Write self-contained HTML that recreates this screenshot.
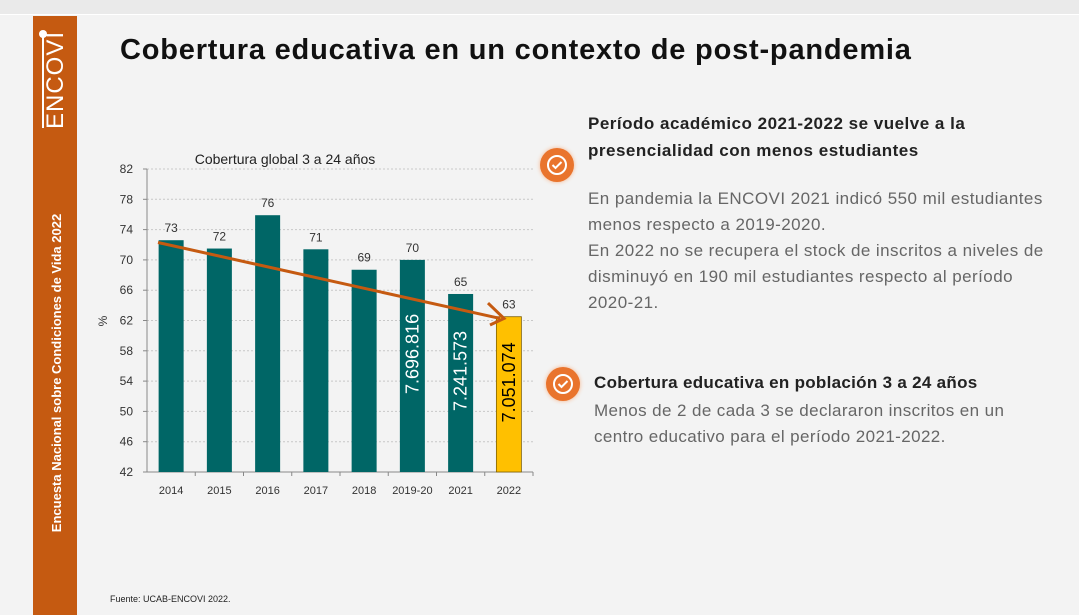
<!DOCTYPE html>
<html><head><meta charset="utf-8"><style>
body{margin:0;width:1079px;height:615px;background:#f3f3f3;font-family:"Liberation Sans",sans-serif;position:relative;overflow:hidden}
.abs{position:absolute}
</style></head><body>
<div class="abs" style="left:0;top:0;width:1079px;height:14px;background:#eaeaea;border-bottom:1px solid #fff"></div>
<div class="abs" style="left:33px;top:16px;width:44px;height:599px;background:#c55a11"></div>
<div class="abs" style="left:34px;top:30px;width:42px;height:100px">
 <div style="position:absolute;left:5px;top:0;width:8px;height:8px;border-radius:50%;background:#fff"></div>
 <div style="position:absolute;left:8px;top:6px;width:2px;height:92px;background:#fff"></div>
 <div style="position:absolute;left:-28px;top:38px;width:100px;height:24px;transform:rotate(-90deg);color:#fff;font-size:24px;text-align:center;line-height:24px;letter-spacing:1px">ENCOVI</div>
</div>
<div class="abs" style="left:-115px;top:365px;width:344px;height:16px;transform:rotate(-90deg);color:#fff;font-size:13px;font-weight:bold;text-align:center;line-height:16px">Encuesta Nacional sobre Condiciones de Vida 2022</div>
<div class="abs" style="left:120px;top:34px;font-size:29px;letter-spacing:0.8px;font-weight:bold;color:#111">Cobertura educativa en un contexto de post-pandemia</div>

<svg class="abs" style="left:0;top:0" width="1079" height="615">
<text x="285" y="164" font-size="14" text-anchor="middle" fill="#222">Cobertura global 3 a 24 años</text>
<g id="g"></g>
</svg>

<div class="abs" style="left:540px;top:148px;width:34px;height:34px;border-radius:50%;background:#e9742d;box-shadow:0 0 4px #f6b48a"><svg width="34" height="34"><circle cx="17" cy="17" r="9" fill="none" stroke="#fff" stroke-width="2"/><path d="M12.5 17l3 3 6-6" fill="none" stroke="#fff" stroke-width="2"/></svg></div>
<div class="abs" style="left:588px;top:110px;font-size:17px;letter-spacing:0.5px;font-weight:bold;color:#222;line-height:27px">Período académico 2021-2022 se vuelve a la<br>presencialidad con menos estudiantes</div>
<div class="abs" style="left:588px;top:186px;font-size:17px;letter-spacing:0.45px;color:#666;line-height:26px">En pandemia la ENCOVI 2021 indicó 550 mil estudiantes<br>menos respecto a 2019-2020.<br>En 2022 no se recupera el stock de inscritos a niveles de<br>disminuyó en 190 mil estudiantes respecto al período<br>2020-21.</div>
<div class="abs" style="left:546px;top:367px;width:34px;height:34px;border-radius:50%;background:#e9742d;box-shadow:0 0 4px #f6b48a"><svg width="34" height="34"><circle cx="17" cy="17" r="9" fill="none" stroke="#fff" stroke-width="2"/><path d="M12.5 17l3 3 6-6" fill="none" stroke="#fff" stroke-width="2"/></svg></div>
<div class="abs" style="left:594px;top:373px;font-size:17px;letter-spacing:0.3px;font-weight:bold;color:#222">Cobertura educativa en población 3 a 24 años</div>
<div class="abs" style="left:594px;top:398px;font-size:17px;letter-spacing:0.4px;color:#666;line-height:26px">Menos de 2 de cada 3 se declararon inscritos en un<br>centro educativo para el período 2021-2022.</div>
<div class="abs" style="left:110px;top:594px;font-size:9px;color:#222">Fuente: UCAB-ENCOVI 2022.</div>

<script>
const categories=["2014","2015","2016","2017","2018","2019-20","2021","2022"];
const values=[72.6,71.5,75.9,71.4,68.7,70.0,65.5,62.5];
const labels=["73","72","76","71","69","70","65","63"];
const students=["","","","","","7.696.816","7.241.573","7.051.074"];
const yTicks=[42,46,50,54,58,62,66,70,74,78,82];
const NS="http://www.w3.org/2000/svg";
const g=document.getElementById('g');
const x0=147,x1=533,yTop=169,yBot=472,yMin=42,yMax=82;
const y=v=>yBot-(v-yMin)/(yMax-yMin)*(yBot-yTop);
const step=(x1-x0)/categories.length;
const xc=i=>x0+step*(i+0.5);
function mk(t,a){const e=document.createElementNS(NS,t);for(const k in a)e.setAttribute(k,a[k]);g.appendChild(e);return e;}
yTicks.forEach(t=>{
 const l=mk('line',{x1:x0,x2:x1,y1:y(t),y2:y(t),stroke:'#c8c8c8','stroke-dasharray':'2,2'});
 
 
 mk('line',{x1:x0-4,x2:x0,y1:y(t),y2:y(t),stroke:'#888'});
 const tx=mk('text',{x:x0-14,y:y(t)+4,'font-size':12,'text-anchor':'end',fill:'#333'});tx.textContent=t;
 
 
});
mk('line',{x1:x0,x2:x0,y1:yTop,y2:yBot,stroke:'#888'});
mk('line',{x1:x0,x2:x1,y1:yBot,y2:yBot,stroke:'#888'});
const yl=mk('text',{x:107,y:321,'font-size':12,fill:'#333',transform:'rotate(-90 107 321)','text-anchor':'middle'});yl.textContent='%';


categories.forEach((c,i)=>{
 const last=i===categories.length-1;
 const r=mk('rect',{x:xc(i)-12.5,y:y(values[i]),width:25,height:yBot-y(values[i]),fill:last?'#ffc000':'#006666',stroke:last?'#7f6000':'none','stroke-width':0.8});
 
 
 const t=mk('text',{x:xc(i),y:y(values[i])-8,'font-size':12,'text-anchor':'middle',fill:'#333'});t.textContent=labels[i];
 
 
 const xt=mk('text',{x:xc(i),y:yBot+22,'font-size':11,'text-anchor':'middle',fill:'#333'});xt.textContent=c;
 
 
 mk('line',{x1:x0+step*(i+1),x2:x0+step*(i+1),y1:yBot,y2:yBot+4,stroke:'#888'});
 if(students[i]){
  const cx=xc(i)+6,cy=(yBot+y(values[i]))/2-12;
  const s=mk('text',{x:cx,y:cy,'font-size':18,'text-anchor':'middle',fill:last?'#000':'#fff',transform:`rotate(-90 ${cx} ${cy})`});
  s.textContent=students[i];
  
  
 }
});
const a=mk('line',{x1:158,y1:y(72.3),x2:500,y2:y(62.4)+1,stroke:'#c55a11','stroke-width':3});


mk('path',{d:`M488 ${y(64.3)} L504 ${y(62.4)+1} L490 ${y(61.8)+3}`,fill:'none',stroke:'#c55a11','stroke-width':3});
</script>
</body></html>
